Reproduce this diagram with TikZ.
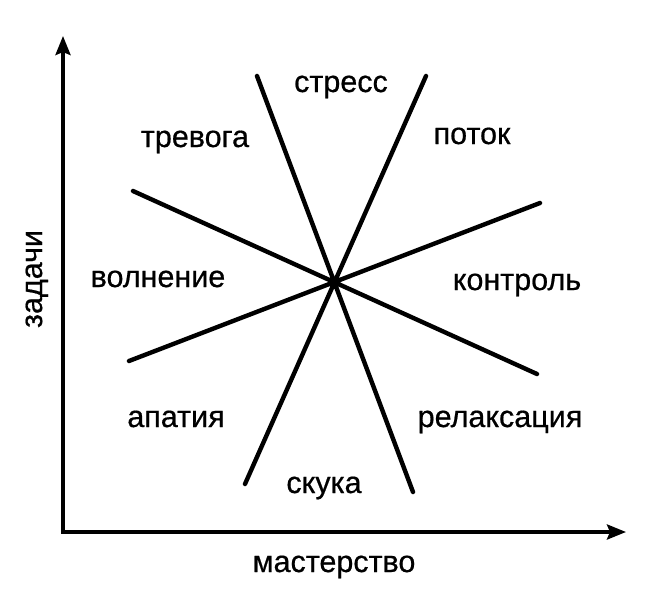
\documentclass[tikz,border=0pt]{standalone}
\usepackage{fontspec}
\setmainfont{Liberation Sans}
\newfontfamily\lblfont[FakeBold=0.6]{Liberation Sans}
\usetikzlibrary{arrows.meta}
\begin{document}
\begin{tikzpicture}[x=1pt,y=-1pt,>={Stealth[length=19pt,width=15pt,inset=3pt]},line cap=round,
	lbl/.style={font=\lblfont\fontsize{30.5}{36}\selectfont,inner sep=0pt,anchor=base}]
	\useasboundingbox (0,0) rectangle (651,600);
	% axes
	\coordinate (O) at (63,532);
	\coordinate (X) at (626,532);
	\coordinate (Y) at (63,36);
	\draw[<->,line width=3.6pt,line cap=butt,line join=miter] (Y)--(O)--(X);
	% star
	\coordinate (a1) at (257,76);  \coordinate (b1) at (413,492);
	\coordinate (a2) at (426,76);  \coordinate (b2) at (245,484);
	\coordinate (a3) at (133,191); \coordinate (b3) at (537,374);
	\coordinate (a4) at (129,361); \coordinate (b4) at (540,203);
	\draw[line width=4.4pt] (a1)--(b1) (a2)--(b2) (a3)--(b3) (a4)--(b4);
	% labels
	\node[lbl] (stress) at (341,92) {стресс};
	\node[lbl] (trevoga) at (195,147) {тревога};
	\node[lbl] (potok) at (472,144) {поток};
	\node[lbl] (volnenie) at (158,287) {волнение};
	\node[lbl] (kontrol) at (517,290) {контроль};
	\node[lbl] (apatiya) at (176,427) {апатия};
	\node[lbl] (relax) at (500,427) {релаксация};
	\node[lbl] (skuka) at (324,493) {скука};
	\node[lbl] (master) at (334,572) {мастерство};
	\node[lbl,rotate=90] (zadachi) at (42,279) {задачи};
\end{tikzpicture}
\end{document}
